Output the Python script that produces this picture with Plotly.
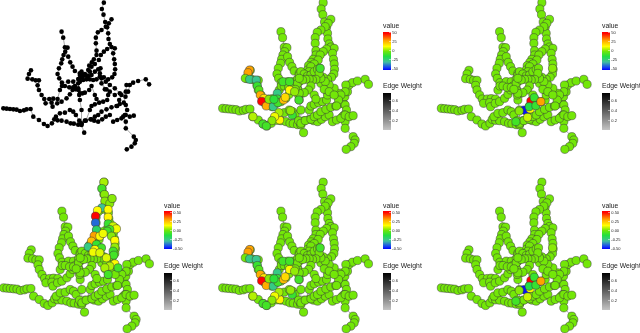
import plotly.graph_objects as go

W, H = 640, 333

# Graph chains (picture units: 3 per pixel)
chains = [
    [(312,8),(306,27),(311,44),(316,66),(322,82),(325,100),(326,117),(330,132),(335,141),(345,145)],
    [(335,58),(327,70),(318,80),(305,90),(294,97),(288,113),(288,130),(290,152),(290,165),(282,178),(276,187),(268,197),(265,210),(258,225)],
    [(335,141),(322,147),(312,155),(303,165),(297,180),(285,192),(275,200),(270,215),(262,230)],
    [(335,141),(340,160),(343,178),(345,192),(346,208),(344,222),(337,232),(325,238),(312,232),(300,230)],
    [(185,95),(190,113),(195,142),(203,143),(196,155),(191,165),(187,178),(184,190),(177,205),(173,222),(178,235),(186,248),(205,245),(220,245),(235,237),(248,232)],
    [(196,155),(205,170),(211,187),(218,200),(225,213),(240,220),(250,225)],
    [(93,211),(87,222),(83,236),(97,238),(107,241),(117,241),(113,256),(117,270),(125,285),(133,297),(148,297),(160,296),(173,297)],
    [(133,297),(137,310),(155,308),(158,320),(172,310),(185,305),(200,295),(210,283),(218,270),(225,258),(240,245)],
    [(173,297),(180,270),(186,258),(195,258),(208,262),(220,262),(235,265),(248,280)],
    [(10,325),(20,326),(30,327),(40,328),(50,329),(60,333),(72,331),(80,328),(92,327),(100,350),(117,360),(132,372),(143,378),(156,370),(163,358),(173,361),(185,362),(200,365),(212,370),(222,371),(235,374),(245,372),(255,362),(272,358),(283,362),(295,365),(307,358),(318,350),(330,345)],
    [(245,375),(253,398)],
    [(168,350),(180,340),(195,338),(210,330),(220,335),(228,345),(238,362),(245,372)],
    [(245,370),(245,330),(240,300),(238,285),(236,270),(235,250)],
    [(258,362),(270,330),(275,318),(285,313),(298,308),(310,305),(322,300),(325,285),(320,268),(305,250),(303,232)],
    [(275,358),(285,350),(295,345),(305,335),(320,328),(335,322),(350,318),(360,312),(372,308),(377,290),(385,275),(390,255),(400,248),(415,243),(438,238),(448,253)],
    [(380,255),(378,275),(360,280),(345,265),(330,255),(318,245),(305,235)],
    [(378,315),(382,330),(375,345),(370,350),(378,365),(378,385),(402,410),(408,420),(405,430),(395,440),(381,448)],
    [(340,365),(352,360),(365,355),(378,345),(390,350),(402,347)],
    [(365,285),(358,300),(352,318)],
    [(240,225),(245,215),(255,222),(265,228),(275,225),(285,215),(295,208),(302,205),(300,220),(290,238),(280,240),(270,238),(260,238),(250,240),(240,235)],
    [(275,258),(268,270),(255,278),(240,280),(228,268)],
    [(275,258),(285,285),(290,297)],
    [(305,250),(315,268),(330,275),(345,285)],
]

# Highlighted nodes: x, y, value
left_x = [91,86,78,91,111,114,119,123,134,127,141,149,162,174,174,176,164,193,198,191,211,211,226,239,219,181,179,166,158,131,141,101,303,214]
left_y = [210,218,235,238,240,258,270,285,295,304,318,298,320,280,297,308,298,300,292,245,245,270,275,300,345,360,338,350,362,372,378,350,205,332]
left_v = [30,30,0,-25,-27,-10,-5,28,18,50,28,2,-25,-25,-10,-8,-12,25,20,-8,-8,14,3,-8,-10,15,5,12,2,-8,-8,6,-8,3]

center_x = [302,259,265,279,277,274,289,294,309,244,269,234,344]
center_y = [306,330,333,303,327,320,293,317,305,333,352,365,205]
center_v = [-50,-50,-50,50,14,-15,-10,-10,30,2,8,-8,2]

north_x = [311,305,313,314,329,336,305,292,324,286,324,286,289,324,339,349,329,321,282,299,309,274,264,289,304,284,334,344,344,339,341,279,299,319,344,329,314,324,354]
north_y = [8,27,45,65,72,57,85,93,90,110,113,130,151,133,140,148,150,155,169,170,162,185,202,195,205,210,170,183,203,215,227,218,220,235,253,260,265,285,265]
north_v = [5,-8,2,2,2,2,-28,14,14,50,15,-40,-20,-10,8,12,-8,-8,30,14,12,25,-25,-10,-8,14,2,14,3,-8,-8,12,10,10,14,6,5,-8,-8]

value_ticks_a = [50, 25, 0, -25, -50]
value_ticks_b = [0.50, 0.25, 0.00, -0.25, -0.50]
value_text_a = ["50", "25", "0", "-25", "-50"]
value_text_b = ["0.50", "0.25", "0.00", "-0.25", "-0.50"]
edge_ticks = [0.6, 0.4, 0.2]
edge_text = ["0.6", "0.4", "0.2"]

# Layout constants
RX, RY = 600, 459
PW, PH = RX / 3, RY / 3
panels = [(0, 0), (219.7, 0), (438.7, 0), (0.3, 179.5), (219.7, 179.5), (438.7, 179.5)]
bars = {1: (383, 30.5, 91), 2: (602, 30.5, 91), 3: (164, 210.5, 271), 4: (383, 210.5, 271), 5: (602, 210.5, 271)}
TITLE_H = 11

spectrum = [[0, "#0000ff"], [0.07, "#1844f0"], [0.21, "#40c0a0"], [0.36, "#20e040"],
            [0.49, "#70e608"], [0.62, "#ffff00"], [0.78, "#ffa000"], [0.97, "#ff0000"], [1, "#ff0000"]]
grays = [[0, "#c4c4c4"], [1, "#000000"]]

node_x, node_y, edge_x, edge_y = [], [], [], []
seen = set()
for ch in chains:
    for (x, y) in ch:
        edge_x.append(x); edge_y.append(y)
        if (x, y) not in seen:
            seen.add((x, y))
            node_x.append(x); node_y.append(y)
    edge_x.append(None); edge_y.append(None)
base_v = [0] * len(node_x)

fig = go.Figure()
layout = dict(width=W, height=H, margin=dict(l=0, r=0, t=0, b=0), paper_bgcolor="white",
              plot_bgcolor="white", showlegend=False, font=dict(family="Liberation Sans", color="#222"))

def yfrac(py):
    return 1 - py / H

for i, (px, py) in enumerate(panels):
    n = "" if i == 0 else str(i + 1)
    layout[f"xaxis{n}"] = dict(domain=[px / W, (px + PW) / W], range=[0, RX], visible=False, fixedrange=True)
    layout[f"yaxis{n}"] = dict(domain=[yfrac(py + PH), yfrac(py)], range=[RY, 0], visible=False, fixedrange=True)
    axes = dict(xaxis=f"x{n}", yaxis=f"y{n}")
    fig.add_trace(go.Scatter(x=edge_x, y=edge_y, mode="lines", line=dict(color="#a8a8a8", width=1),
                             hoverinfo="skip", cliponaxis=False, **axes))
    if i == 0:
        fig.add_trace(go.Scatter(x=node_x, y=node_y, mode="markers", cliponaxis=False,
                                 marker=dict(size=4.6, color="black"), **axes))
        continue
    scale_b = i >= 3
    div = 100 if scale_b else 1
    cv = f"coloraxis{2*i-1 if i > 1 else ''}"
    ce = f"coloraxis{2*i}"
    def nodes(xs, ys, vs):
        fig.add_trace(go.Scatter(x=xs, y=ys, mode="markers", cliponaxis=False,
                                 marker=dict(size=8.2, color=[v / div for v in vs], coloraxis=cv,
                                             line=dict(color="#3a3a3a", width=0.5)), **axes))
    nodes(node_x, node_y, base_v)
    if i in (1, 4):
        nodes(left_x, left_y, left_v)
    elif i == 3:
        nodes(north_x, north_y, north_v)
    else:
        nodes(center_x, center_y, center_v)
    # edge-weight colour bar
    fig.add_trace(go.Scatter(x=[None], y=[None], mode="markers", hoverinfo="skip",
                             marker=dict(color=[0.4], coloraxis=ce, size=1), **axes))
    bx, vy, ey = bars[i]
    def cb(title, top, vals, text):
        return dict(title=dict(text=title, side="top", font=dict(size=6.8, color="#222")),
                    x=bx / W, xanchor="left", xpad=0, ypad=0, y=yfrac(top - TITLE_H), yanchor="top",
                    len=39 + TITLE_H, lenmode="pixels", thickness=8, thicknessmode="pixels",
                    outlinewidth=0, borderwidth=0, tickvals=vals, ticktext=text,
                    ticks="inside", ticklen=2, tickcolor="white", tickwidth=0.5,
                    tickfont=dict(size=4, color="#222"))
    vals = value_ticks_b if scale_b else value_ticks_a
    text = value_text_b if scale_b else value_text_a
    lo, hi = (-0.52, 0.535) if scale_b else (-52, 53.5)
    layout[cv] = dict(colorscale=spectrum, cmin=lo, cmax=hi, colorbar=cb("value", vy, vals, text))
    layout[ce] = dict(colorscale=grays, cmin=0.01, cmax=0.74,
                      colorbar=cb("Edge Weight", ey, edge_ticks, edge_text))

fig.update_layout(**layout)
fig.write_html("out.html", config=dict(displayModeBar=False, staticPlot=True),
               post_script="document.body.style.margin='0';document.body.style.overflow='hidden';"
                           "document.querySelector('.plotly-graph-div').style.filter='blur(0.45px)';")
